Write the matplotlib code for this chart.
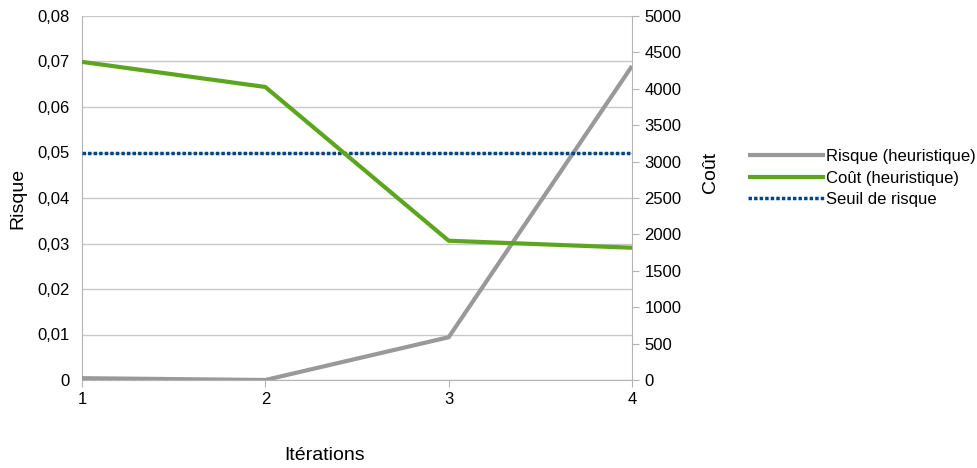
import matplotlib
matplotlib.use("Agg")
import matplotlib.pyplot as plt
from matplotlib.ticker import FuncFormatter

plt.rcParams['font.family'] = ['Liberation Sans', 'DejaVu Sans']

iterations = [1, 2, 3, 4]
risque = [0.0004, 0.0, 0.0094, 0.069]
cout = [4370, 4025, 1913, 1817]
seuil = [0.05, 0.05, 0.05, 0.05]
left_ticks = [0, 0.01, 0.02, 0.03, 0.04, 0.05, 0.06, 0.07, 0.08]
right_ticks = [0, 500, 1000, 1500, 2000, 2500, 3000, 3500, 4000, 4500, 5000]

W, H = 977, 468
fig = plt.figure(figsize=(W/100, H/100), dpi=100)
ax = fig.add_axes([82/W, 1-380/H, (632-82)/W, (380-16)/H])
ax2 = ax.twinx()

grey = '#999999'
green = '#5ca51e'
blue = '#004586'

l1, = ax.plot(iterations, risque, color=grey, lw=3, solid_capstyle='butt', zorder=3)
l3, = ax.plot(iterations, seuil, color=blue, lw=2.5, linestyle=(0, (1, 0.6)), zorder=3)
l2, = ax2.plot(iterations, cout, color=green, lw=3, solid_capstyle='butt', zorder=3)

ax.set_xlim(1, 4)
ax.set_ylim(0, 0.08)
ax2.set_ylim(0, 5000)
ax.set_xticks(iterations)
ax.set_yticks(left_ticks)
ax2.set_yticks(right_ticks)
ax.yaxis.set_major_formatter(FuncFormatter(lambda v, p: '0' if v == 0 else f'{v:.2f}'.replace('.', ',')))
ax.grid(axis='y', color='#c8c8c8', lw=1)
ax.set_axisbelow(True)

for a in (ax, ax2):
    for s in a.spines.values():
        s.set_visible(False)
ax.spines['left'].set_visible(True)
ax.spines['left'].set_color('#b3b3b3')
ax.spines['bottom'].set_visible(True)
ax.spines['bottom'].set_color('#b3b3b3')
ax2.spines['right'].set_visible(True)
ax2.spines['right'].set_color('#b3b3b3')

ax.tick_params(axis='y', length=0, labelsize=12, pad=9)
ax.tick_params(axis='x', length=5, color='#b3b3b3', labelsize=12, pad=4)
ax2.tick_params(axis='y', length=5, color='#b3b3b3', labelsize=12, pad=4)

fig.text(18/W, 1-198/H, 'Risque', rotation=90, ha='center', va='center', fontsize=14)
fig.text(710/W, 1-172/H, 'Coût', rotation=90, ha='center', va='center', fontsize=14)
fig.text(325/W, 1-455/H, 'Itérations', ha='center', va='center', fontsize=14)

fig.legend([l1, l2, l3], ['Risque (heuristique)', 'Coût (heuristique)', 'Seuil de risque'],
           loc='center left', bbox_to_anchor=(748/W, 1-178/H), frameon=False,
           fontsize=12, handlelength=4.6, handletextpad=0.1, labelspacing=0.4,
           borderpad=0, borderaxespad=0)

fig.savefig('out.png', dpi=100)
